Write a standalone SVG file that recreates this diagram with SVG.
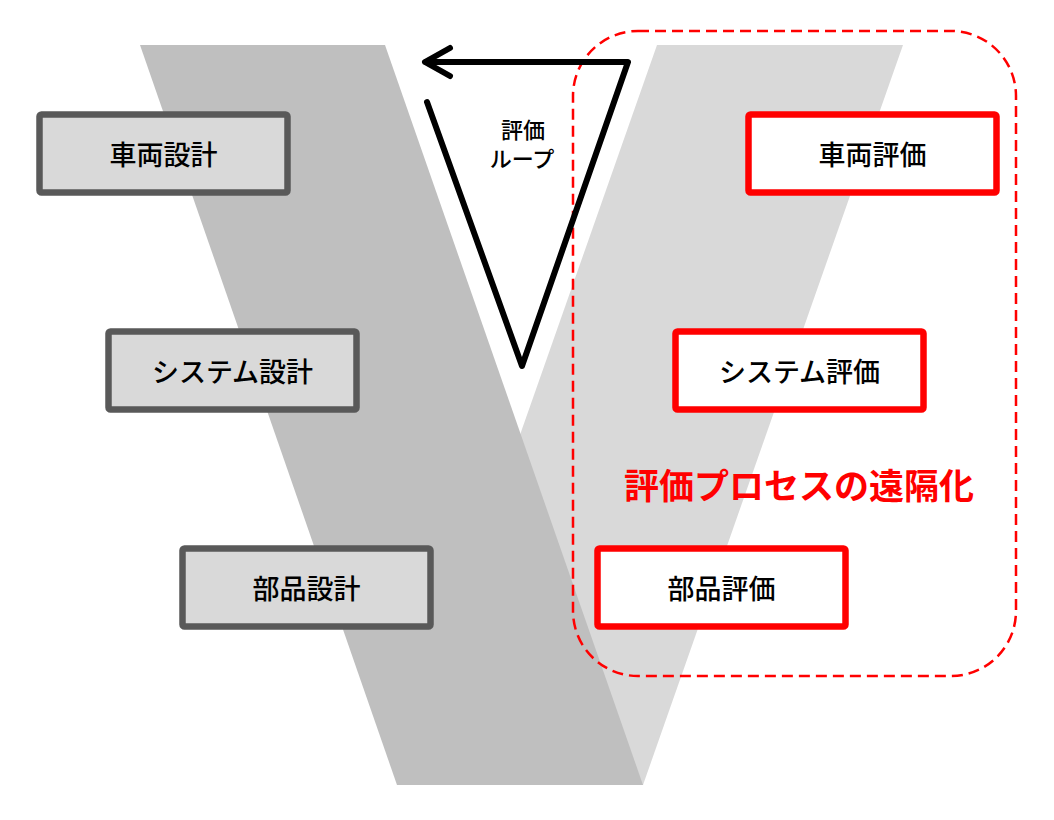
<svg xmlns="http://www.w3.org/2000/svg" width="1054" height="820" viewBox="0 0 1054 820">
<style>
.lbl{font-family:"Noto Sans CJK JP","Noto Sans",sans-serif;font-size:27px;font-weight:500;fill:#000;text-anchor:middle;dominant-baseline:central}
.small{font-size:22px}
.dbox{fill:#d9d9d9;stroke:#595959;stroke-width:6.5}
.ebox{fill:#fff;stroke:#ff0000;stroke-width:6.5}
.loop{fill:none;stroke:#000;stroke-width:6;stroke-linecap:round;stroke-linejoin:round}
</style>
<rect width="1054" height="820" fill="#fff"/>
<g id="v-shape">
<polygon points="657,45 903,45 643,785 397,785" fill="#d9d9d9"/>
<polygon points="140,45 385,45 643,785 397,785" fill="#bfbfbf"/>
</g>
<g id="remote-area">
<rect x="573" y="31" width="443" height="645" rx="65" ry="65" fill="none" stroke="#ff0000" stroke-width="2.5" stroke-dasharray="11 6"/>
</g>
<g id="connectors">
<polyline class="loop" points="427,102 522,366 628,62 426,62"/>
<polyline class="loop" points="450,48 425,62 450,76"/>
</g>
<g id="loop-label">
<text class="lbl small" x="523" y="128">評価</text>
<text class="lbl small" x="522" y="157">ループ</text>
</g>
<g id="node-vehicle-design">
<rect class="dbox" x="39.5" y="114.5" width="248" height="78" rx="2"/>
<text class="lbl" x="163.5" y="153.5">車両設計</text>
</g>
<g id="node-system-design">
<rect class="dbox" x="108.5" y="331.5" width="248" height="78" rx="2"/>
<text class="lbl" x="232.5" y="370.5">システム設計</text>
</g>
<g id="node-part-design">
<rect class="dbox" x="182.5" y="548.5" width="248" height="78" rx="2"/>
<text class="lbl" x="306.5" y="587.5">部品設計</text>
</g>
<g id="node-vehicle-eval">
<rect class="ebox" x="748.5" y="114.5" width="248" height="78" rx="2"/>
<text class="lbl" x="872.5" y="153.5">車両評価</text>
</g>
<g id="node-system-eval">
<rect class="ebox" x="675.5" y="331.5" width="248" height="78" rx="2"/>
<text class="lbl" x="799.5" y="370.5">システム評価</text>
</g>
<g id="node-part-eval">
<rect class="ebox" x="597.5" y="548.5" width="248" height="78" rx="2"/>
<text class="lbl" x="721.5" y="587.5">部品評価</text>
</g>
<g id="remote-label">
<text class="lbl" x="799" y="483" style="font-size:35px;font-weight:bold;fill:#ff0000">評価プロセスの遠隔化</text>
</g>
</svg>
